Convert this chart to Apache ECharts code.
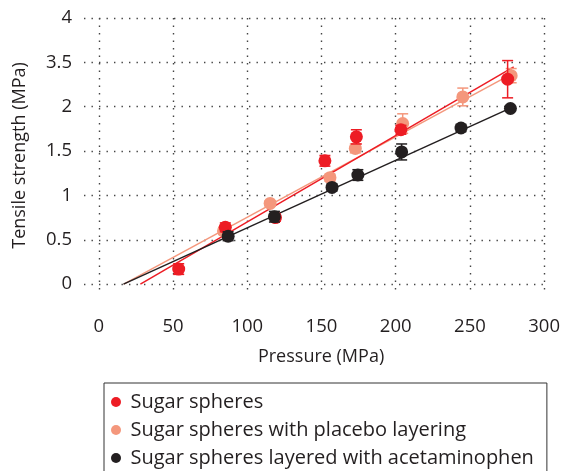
<!DOCTYPE html>
<html>
<head>
<meta charset="utf-8">
<script src="https://cdn.jsdelivr.net/npm/echarts@6/dist/echarts.min.js"></script>
<style>html,body{margin:0;padding:0;background:#fff}#c{width:563px;height:471px}</style>
</head>
<body>
<div id="c"></div>
<script>
// ---- data ----
const xTicks = [0, 50, 100, 150, 200, 250, 300];
const yTicks = [0, 0.5, 1, 1.5, 2, 2.5, 3];
const yTickLabels = ['0', '0.5', '1', '1.5', '2', '3.5', '4'];

const seriesNames = ['Sugar spheres', 'Sugar spheres with placebo layering', 'Sugar spheres layered with acetaminophen'];

const pressureSugar = [53.8, 85.2, 119, 152.3, 173.5, 203.5, 275.4];
const strengthSugar = [0.17, 0.64, 0.75, 1.39, 1.66, 1.74, 2.31];
const errorSugar = [0.06, 0.05, 0.04, 0.06, 0.08, 0.05, 0.21];

const pressurePlacebo = [84, 115.4, 155.7, 172.8, 204.7, 245.2, 277.8];
const strengthPlacebo = [0.60, 0.91, 1.20, 1.53, 1.81, 2.11, 2.35];
const errorPlacebo = [0.04, 0.03, 0.04, 0.05, 0.11, 0.10, 0.08];

const pressureApap = [87.1, 118.3, 157.1, 174.5, 204, 244, 277.3];
const strengthApap = [0.54, 0.76, 1.09, 1.23, 1.49, 1.76, 1.98];
const errorApap = [0.05, 0.06, 0.04, 0.06, 0.09, 0.04, 0.02];

// fitted lines: [start, end]
const fitSugarX = [28, 279.5];
const fitSugarY = [0, 2.45];
const fitPlaceboX = [16.8, 280.5];
const fitPlaceboY = [0, 2.39];
const fitApapX = [16.6, 278];
const fitApapY = [0, 1.99];

// ---- styles ----
const cRed = '#ED1C24';
const cSalmon = '#F4977C';
const cBlack = '#231F20';
const textColor = '#231F20';
const font = 'Open Sans';

function pts(xs, ys) { return xs.map((x, i) => [x, ys[i]]); }

function errorSeries(name, xs, ys, es, color, z) {
  return {
    type: 'custom', name: name, z: z,
    data: xs.map((x, i) => [x, ys[i] - es[i], ys[i] + es[i]]),
    encode: { x: 0, y: [1, 2] },
    renderItem: function (params, api) {
      const lo = api.coord([api.value(0), api.value(1)]);
      const hi = api.coord([api.value(0), api.value(2)]);
      const w = 5.5;
      const st = { stroke: color, lineWidth: 1.5 };
      return {
        type: 'group',
        children: [
          { type: 'line', shape: { x1: lo[0], y1: lo[1], x2: hi[0], y2: hi[1] }, style: st },
          { type: 'line', shape: { x1: lo[0] - w, y1: lo[1], x2: lo[0] + w, y2: lo[1] }, style: st },
          { type: 'line', shape: { x1: hi[0] - w, y1: hi[1], x2: hi[0] + w, y2: hi[1] }, style: st }
        ]
      };
    },
    silent: true
  };
}

function scatter(name, xs, ys, color, z) {
  return {
    type: 'scatter', name: name, z: z, data: pts(xs, ys),
    symbol: 'circle', symbolSize: 13,
    itemStyle: { color: color, opacity: 1 }
  };
}

function fitLine(name, xs, ys, color, z) {
  return {
    type: 'line', name: name, z: z, data: pts(xs, ys),
    symbol: 'none', silent: true,
    lineStyle: { color: color, width: 1.5 }
  };
}

const gridLine = { show: true, lineStyle: { color: '#444', width: 1.4, type: [1.4, 6.1] } };

const option = {
  animation: false,
  backgroundColor: '#fff',
  grid: { left: 84, right: 17, top: 18, bottom: 178, containLabel: false },
  xAxis: {
    type: 'value', min: -10, max: 300,
    axisLine: { show: false }, 
    axisTick: { show: false, customValues: xTicks },
    axisLabel: { customValues: xTicks, color: textColor, fontFamily: font, fontSize: 18.5, margin: 24 },
    splitLine: gridLine,
    name: 'Pressure (MPa)', nameLocation: 'middle', nameGap: 55,
    nameTextStyle: { color: textColor, fontFamily: font, fontSize: 18, padding: [0, 0, 0, 14] }
  },
  yAxis: {
    type: 'value', min: -0.1, max: 3,
    axisLine: { show: false },
    axisTick: { show: false, customValues: yTicks },
    axisLabel: {
      customValues: yTicks, color: textColor, fontFamily: font, fontSize: 18.5, margin: 12,
      formatter: function (v) { const i = yTicks.indexOf(v); return i >= 0 ? yTickLabels[i] : ''; }
    },
    splitLine: gridLine,
    name: 'Tensile strength (MPa)', nameLocation: 'middle', nameGap: 55, nameRotate: 90,
    nameTextStyle: { color: textColor, fontFamily: font, fontSize: 18 }
  },
  legend: {
    data: seriesNames,
    orient: 'vertical', left: 104, top: 383, height: 140,
    borderColor: '#333', borderWidth: 1,
    padding: [9, 13, 30, 7],
    itemGap: 8, itemWidth: 19, itemHeight: 10, icon: 'circle',
    textStyle: { color: textColor, fontFamily: font, fontSize: 20, lineHeight: 18 }
  },
  series: [
    fitLine('fitPlacebo', fitPlaceboX, fitPlaceboY, cSalmon, 2),
    fitLine('fitSugar', fitSugarX, fitSugarY, cRed, 2),
    fitLine('fitApap', fitApapX, fitApapY, cBlack, 2),
    errorSeries('errPlacebo', pressurePlacebo, strengthPlacebo, errorPlacebo, cSalmon, 3),
    scatter(seriesNames[1], pressurePlacebo, strengthPlacebo, cSalmon, 4),
    errorSeries('errSugar', pressureSugar, strengthSugar, errorSugar, cRed, 5),
    scatter(seriesNames[0], pressureSugar, strengthSugar, cRed, 6),
    errorSeries('errApap', pressureApap, strengthApap, errorApap, cBlack, 7),
    scatter(seriesNames[2], pressureApap, strengthApap, cBlack, 8)
  ]
};

const chart = echarts.init(document.getElementById('c'), null, { renderer: 'canvas' });
chart.setOption(option);
</script>
</body>
</html>
